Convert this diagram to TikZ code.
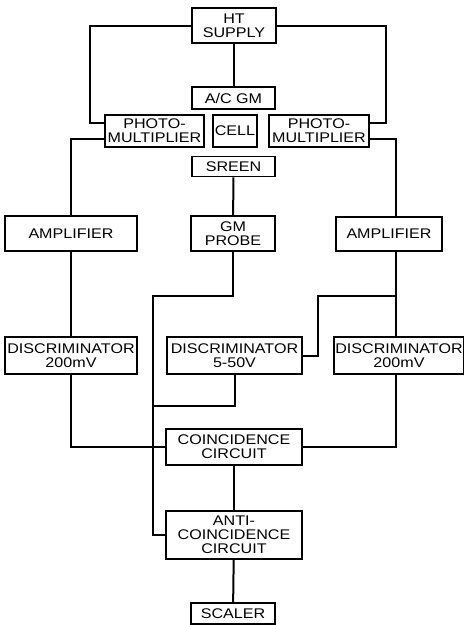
\documentclass[tikz,border=0pt]{standalone}
\usepackage{fontspec}
\setmainfont{Liberation Sans}[FakeStretch=1.15]
\usetikzlibrary{calc,positioning}

\begin{document}
\begin{tikzpicture}[
    x=1pt, y=-1pt,
    blk/.style={
      rectangle, draw=black, line width=1.8pt,
      inner sep=1pt, align=center,
      font=\fontsize{14}{14}\selectfont,
      text=black
    },
    wire/.style={line width=2pt, draw=black}
  ]
    \useasboundingbox (0,0) rectangle (464,625);

    \node[blk, minimum width=84pt, minimum height=35pt] (ht) at (234,25.5) {HT\\SUPPLY};
    \node[blk, minimum width=83pt, minimum height=22pt] (acgm) at (233.5,98) {A/C GM};
    \node[blk, minimum width=99pt, minimum height=32pt] (pml) at (154.5,131) {PHOTO-\\MULTIPLIER};
    \node[blk, minimum width=44pt, minimum height=32pt] (cell) at (235,131) {CELL};
    \node[blk, minimum width=100pt, minimum height=32pt] (pmr) at (319,131) {PHOTO-\\MULTIPLIER};
    \node[blk, minimum width=83pt, minimum height=20pt] (sreen) at (233.5,166.5) {SREEN};
    \node[blk, minimum width=84pt, minimum height=35pt] (gm) at (233,233.5) {GM\\PROBE};
    \node[blk, minimum width=132pt, minimum height=35pt] (ampl) at (71,233.5) {AMPLIFIER};
    \node[blk, minimum width=106pt, minimum height=34pt] (ampr) at (389,234) {AMPLIFIER};
    \node[blk, minimum width=132pt, minimum height=37pt] (discl) at (71,355.5) {DISCRIMINATOR\\200mV};
    \node[blk, minimum width=135pt, minimum height=37pt] (discm) at (234.5,355.5) {DISCRIMINATOR\\5-50V};
    \node[blk, minimum width=127pt, minimum height=37pt] (discr) at (399,355.5) {DISCRIMINATOR\\200mV};
    \node[blk, minimum width=136pt, minimum height=36pt] (coin) at (234,447) {COINCIDENCE\\CIRCUIT};
    \node[blk, minimum width=136pt, minimum height=48pt] (anti) at (234,535) {ANTI-\\COINCIDENCE\\CIRCUIT};
    \node[blk, minimum width=84pt, minimum height=21pt] (scaler) at (233,613.5) {SCALER};

    \coordinate (gmbus) at (153,296);
    \coordinate (mbus) at (153,406);
    \coordinate (rbus) at (396,296);
    \coordinate (rjog) at (318,296);

    \draw[wire] (ht.west) -| ([xshift=-14pt,yshift=-9pt]pml.north west) -- ([yshift=-9pt]pml.north west);
    \draw[wire] (ht.east) -| ([xshift=16pt,yshift=-9pt]pmr.north east) -- ([yshift=-9pt]pmr.north east);
    \draw[wire] (ht.south) -- (ht.south |- acgm.north);
    \draw[wire] ([yshift=9pt]pml.south west) -| (ampl.north);
    \draw[wire] ([yshift=9pt]pmr.south east) -| ([xshift=7pt]ampr.north);
    \draw[wire] (sreen) -- (gm);
    \draw[wire] (gm.south) |- (gmbus) |- (anti.west);
    \draw[wire] (ampl) -- (discl);
    \draw[wire] ([xshift=7pt]ampr.south) -- (rbus) -- (rbus |- discr.north);
    \draw[wire] (rbus) -- (rjog) |- (discm.east);
    \draw[wire] (discm.south) |- (mbus);
    \draw[wire] (discl.south) |- (coin.west);
    \draw[wire] (rbus |- discr.south) |- (coin.east);
    \draw[wire] (coin) -- (anti);
    \draw[wire] (anti) -- (scaler);
  \end{tikzpicture}
\end{document}
